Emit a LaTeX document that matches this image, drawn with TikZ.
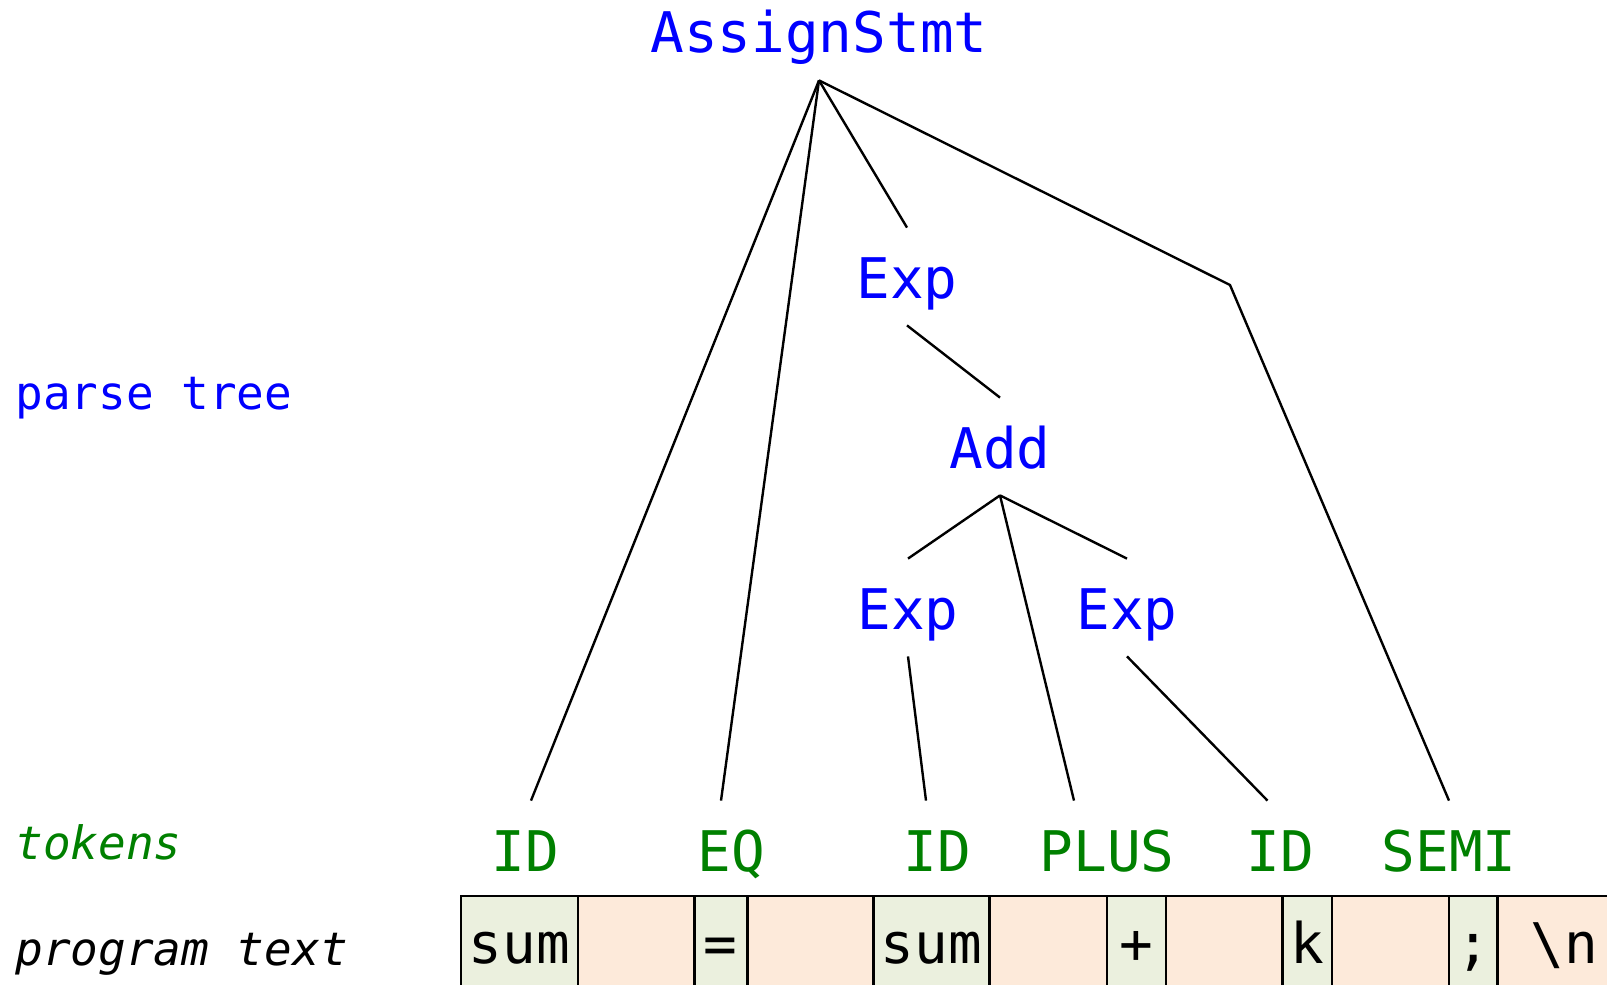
\documentclass[tikz,border=0pt]{standalone}
\usepackage{fontspec}
\setmonofont{DejaVu Sans Mono}
\usetikzlibrary{positioning}
\definecolor{ptblue}{RGB}{0,0,255}
\definecolor{tokgreen}{RGB}{0,128,0}
\definecolor{lexfill}{RGB}{235,240,222}
\definecolor{wsfill}{RGB}{253,234,218}

\begin{document}
\begin{tikzpicture}[x=0.5pt, y=-0.5pt,
        treelabel/.style = {font=\ttfamily\fontsize{28pt}{34pt}\selectfont, text=ptblue, anchor=base,
            inner xsep=2pt, inner ysep=0pt, text height=35pt, text depth=13.5pt},
        toklabel/.style = {treelabel, text=tokgreen},
        sidelabel/.style = {font=\ttfamily\fontsize{23pt}{28pt}\selectfont, anchor=base west, inner sep=0pt},
        charbox/.style = {draw, line width=1.2pt, inner sep=0pt, outer sep=0pt, minimum height=53pt,
            text height=21pt, text depth=7pt, font=\ttfamily\fontsize{28pt}{34pt}\selectfont},
        lexbox/.style = {charbox, fill=lexfill},
        wsbox/.style = {charbox, fill=wsfill},
        branch/.style = {line width=1.2pt}]
    \useasboundingbox (0,0) rectangle (1607,985);
    \clip (0,0) rectangle (1607,985);

    % labels on the left
    \node [sidelabel, text=ptblue] (lparse) at (15,409) {parse tree};
    \node [sidelabel, text=tokgreen] (ltokens) at (15,859) {\itshape tokens};
    \node [sidelabel] (ltext) at (15,965) {\itshape program text};

    % parse tree
    \node [treelabel] (assign) at (819,53) {AssignStmt};
    \node [treelabel] (exp) at (907,298) {Exp};
    \node [treelabel] (add) at (1000,468) {Add};
    \node [treelabel] (expl) at (908,629) {Exp};
    \node [treelabel] (expr) at (1127,629) {Exp};
    \coordinate (bend) at (1230,285);

    % tokens
    \node [toklabel] (id1) at (525,871) {ID};
    \node [toklabel] (eq) at (731,871) {EQ};
    \node [toklabel] (id2) at (937,871) {ID};
    \node [toklabel] (plus) at (1107,871) {PLUS};
    \node [toklabel] (id3) at (1280,871) {ID};
    \node [toklabel] (semi) at (1449,871) {SEMI};

    \draw [branch] (assign.south) -- ([xshift=3pt]id1.north);
    \draw [branch] (assign.south) -- ([xshift=-5pt]eq.north);
    \draw [branch] (assign.south) -- (exp.north);
    \draw [branch] (assign.south) -- (bend) -- (semi.north);
    \draw [branch] (exp.south) -- (add.north);
    \draw [branch] (add.south) -- (expl.north);
    \draw [branch] (add.south) -- ([xshift=-16.5pt]plus.north);
    \draw [branch] (add.south) -- (expr.north);
    \draw [branch] (expl.south) -- ([xshift=-5.5pt]id2.north);
    \draw [branch] (expr.south) -- ([xshift=-6.25pt]id3.north);

    % program text
    \node [lexbox, anchor=north west, minimum width=58.5pt] (c1) at (460.7,896) {sum};
    \node [wsbox, minimum width=58.3pt, right=0pt of c1] (c2) {};
    \node [lexbox, minimum width=26.5pt, right=0pt of c2] (c3) {=};
    \node [wsbox, minimum width=63pt, right=0pt of c3] (c4) {};
    \node [lexbox, minimum width=58pt, right=0pt of c4] (c5) {sum};
    \node [wsbox, minimum width=58.7pt, right=0pt of c5] (c6) {};
    \node [lexbox, minimum width=29.5pt, right=0pt of c6] (c7) {+};
    \node [wsbox, minimum width=58.3pt, right=0pt of c7] (c8) {};
    \node [lexbox, minimum width=24.7pt, right=0pt of c8] (c9) {k};
    \node [wsbox, minimum width=58.65pt, right=0pt of c9] (c10) {};
    \node [lexbox, minimum width=24.15pt, right=0pt of c10] (c11) {;};
    \node [wsbox, minimum width=66.7pt, right=0pt of c11] (c12) {\textbackslash n};
\end{tikzpicture}
\end{document}
